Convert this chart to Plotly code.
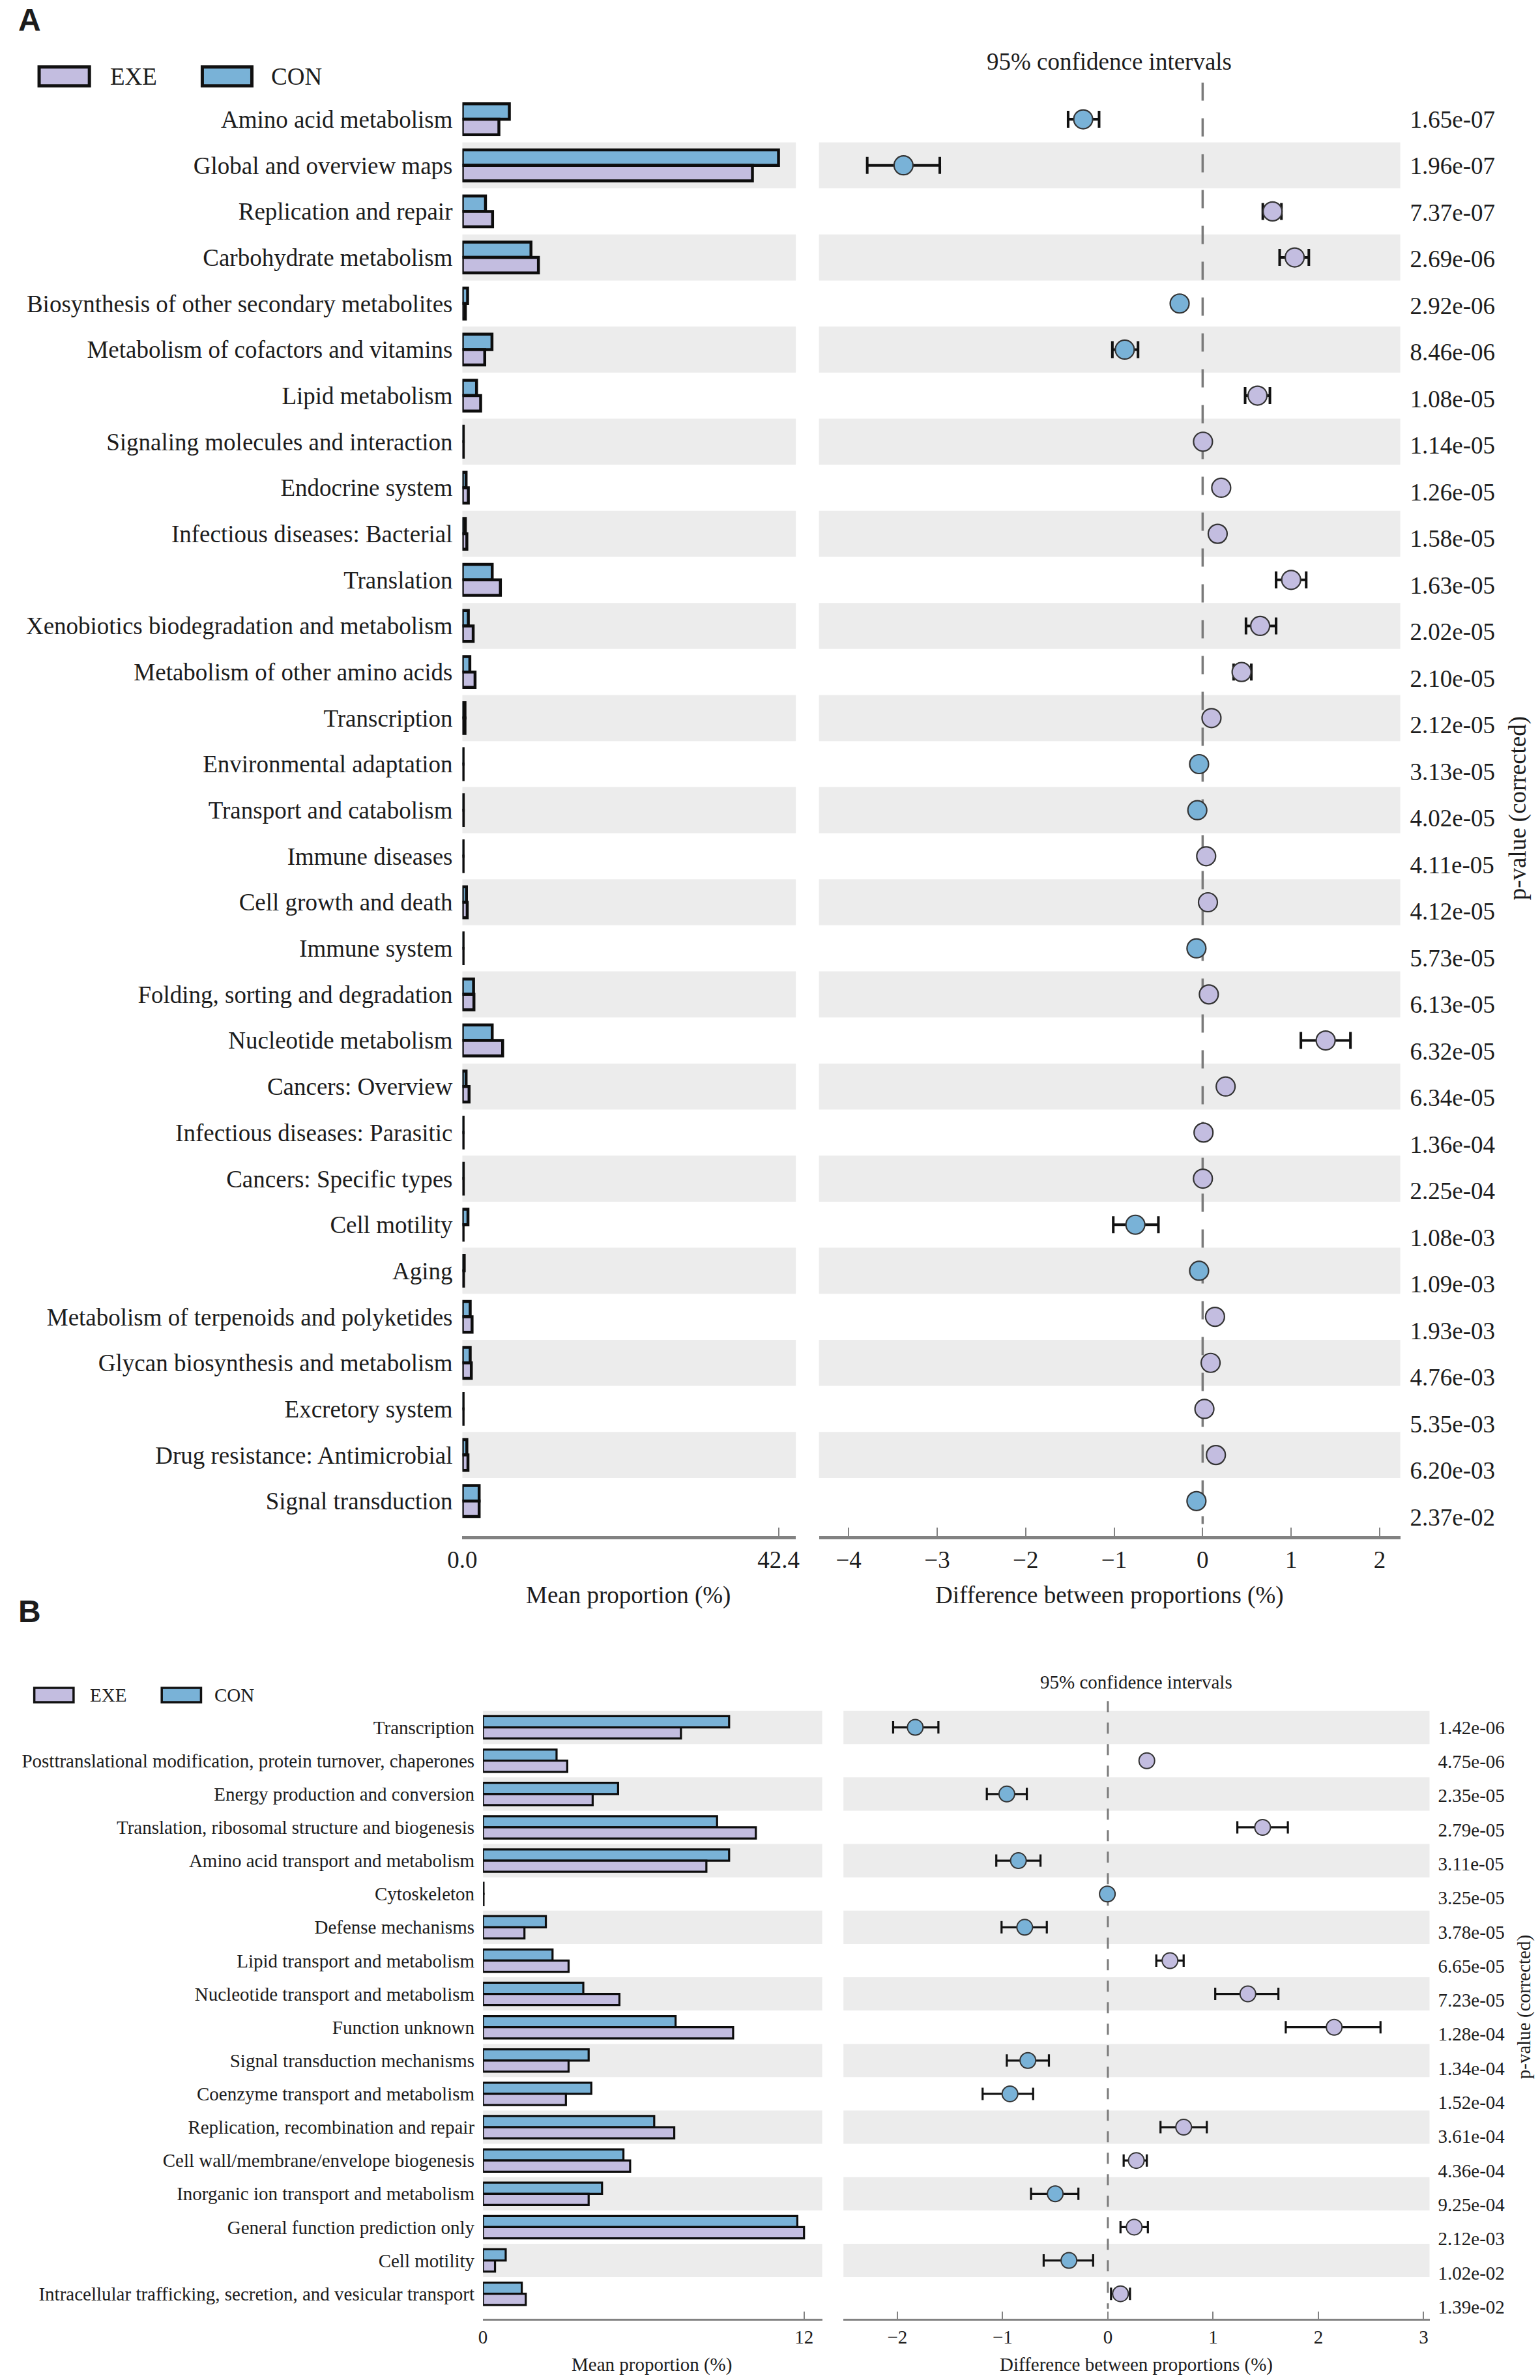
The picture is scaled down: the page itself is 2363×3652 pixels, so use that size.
import plotly.graph_objects as go

W, H = 2363, 3652

# ---------------- Panel A data ----------------
cats_a = ["Amino acid metabolism", "Global and overview maps", "Replication and repair",
          "Carbohydrate metabolism", "Biosynthesis of other secondary metabolites",
          "Metabolism of cofactors and vitamins", "Lipid metabolism",
          "Signaling molecules and interaction", "Endocrine system",
          "Infectious diseases: Bacterial", "Translation",
          "Xenobiotics biodegradation and metabolism", "Metabolism of other amino acids",
          "Transcription", "Environmental adaptation", "Transport and catabolism",
          "Immune diseases", "Cell growth and death", "Immune system",
          "Folding, sorting and degradation", "Nucleotide metabolism", "Cancers: Overview",
          "Infectious diseases: Parasitic", "Cancers: Specific types", "Cell motility", "Aging",
          "Metabolism of terpenoids and polyketides", "Glycan biosynthesis and metabolism",
          "Excretory system", "Drug resistance: Antimicrobial", "Signal transduction"]
con_a = [6.3, 42.4, 3.1, 9.2, 0.7, 3.97, 1.9, 0.12, 0.5, 0.4, 4.0, 0.8, 1.0, 0.35, 0.1, 0.12,
         0.1, 0.55, 0.1, 1.5, 4.0, 0.5, 0.1, 0.12, 0.75, 0.25, 1.05, 1.05, 0.1, 0.6, 2.25]
exe_a = [4.9, 38.9, 4.05, 10.2, 0.4, 3.0, 2.45, 0.12, 0.8, 0.6, 5.1, 1.45, 1.7, 0.35, 0.1, 0.12,
         0.1, 0.65, 0.1, 1.55, 5.4, 0.9, 0.1, 0.12, 0.1, 0.15, 1.3, 1.2, 0.1, 0.75, 2.25]
diff_a = [-1.35, -3.38, 0.79, 1.04, -0.26, -0.88, 0.62, 0.004, 0.21, 0.17, 1.0, 0.65, 0.44, 0.10,
          -0.04, -0.06, 0.04, 0.06, -0.07, 0.07, 1.39, 0.26, 0.01, 0.003, -0.76, -0.04, 0.14,
          0.09, 0.02, 0.15, -0.07]
lo_a = [-1.52, -3.79, 0.68, 0.87, -0.28, -1.02, 0.48, -0.01, 0.19, 0.15, 0.83, 0.49, 0.35, 0.09,
        -0.05, -0.07, 0.03, 0.05, -0.08, 0.06, 1.11, 0.23, 0.0, -0.01, -1.01, -0.05, 0.12, 0.08,
        0.01, 0.13, -0.08]
hi_a = [-1.17, -2.97, 0.89, 1.20, -0.24, -0.73, 0.76, 0.01, 0.23, 0.19, 1.17, 0.83, 0.55, 0.11,
        -0.03, -0.05, 0.05, 0.07, -0.06, 0.08, 1.67, 0.29, 0.02, 0.01, -0.50, -0.03, 0.16, 0.10,
        0.03, 0.17, -0.06]
p_a = ["1.65e-07", "1.96e-07", "7.37e-07", "2.69e-06", "2.92e-06", "8.46e-06", "1.08e-05",
       "1.14e-05", "1.26e-05", "1.58e-05", "1.63e-05", "2.02e-05", "2.10e-05", "2.12e-05",
       "3.13e-05", "4.02e-05", "4.11e-05", "4.12e-05", "5.73e-05", "6.13e-05", "6.32e-05",
       "6.34e-05", "1.36e-04", "2.25e-04", "1.08e-03", "1.09e-03", "1.93e-03", "4.76e-03",
       "5.35e-03", "6.20e-03", "2.37e-02"]
bar_ticks_a = [0, 42.4]
bar_ticktext_a = ["0.0", "42.4"]
ci_ticks_a = [-4, -3, -2, -1, 0, 1, 2]

# ---------------- Panel B data ----------------
cats_b = ["Transcription", "Posttranslational modification, protein turnover, chaperones",
          "Energy production and conversion", "Translation, ribosomal structure and biogenesis",
          "Amino acid transport and metabolism", "Cytoskeleton", "Defense mechanisms",
          "Lipid transport and metabolism", "Nucleotide transport and metabolism",
          "Function unknown", "Signal transduction mechanisms",
          "Coenzyme transport and metabolism", "Replication, recombination and repair",
          "Cell wall/membrane/envelope biogenesis", "Inorganic ion transport and metabolism",
          "General function prediction only", "Cell motility",
          "Intracellular trafficking, secretion, and vesicular transport"]
con_b = [9.2, 2.75, 5.05, 8.75, 9.2, 0.02, 2.35, 2.6, 3.75, 7.2, 3.95, 4.05, 6.4, 5.25, 4.45,
         11.75, 0.85, 1.45]
exe_b = [7.4, 3.15, 4.1, 10.2, 8.35, 0.02, 1.55, 3.2, 5.1, 9.35, 3.2, 3.1, 7.15, 5.5, 3.95,
         12.0, 0.45, 1.6]
diff_b = [-1.83, 0.37, -0.96, 1.47, -0.85, -0.005, -0.79, 0.59, 1.33, 2.15, -0.76, -0.93, 0.72,
          0.27, -0.50, 0.25, -0.37, 0.12]
lo_b = [-2.04, 0.34, -1.15, 1.23, -1.06, -0.01, -1.01, 0.46, 1.02, 1.69, -0.96, -1.19, 0.50,
        0.15, -0.73, 0.12, -0.61, 0.03]
hi_b = [-1.61, 0.40, -0.77, 1.71, -0.64, 0.0, -0.58, 0.72, 1.62, 2.59, -0.56, -0.71, 0.94,
        0.37, -0.28, 0.38, -0.14, 0.21]
p_b = ["1.42e-06", "4.75e-06", "2.35e-05", "2.79e-05", "3.11e-05", "3.25e-05", "3.78e-05",
       "6.65e-05", "7.23e-05", "1.28e-04", "1.34e-04", "1.52e-04", "3.61e-04", "4.36e-04",
       "9.25e-04", "2.12e-03", "1.02e-02", "1.39e-02"]
bar_ticks_b = [0, 12]
bar_ticktext_b = ["0", "12"]
ci_ticks_b = [-2, -1, 0, 1, 2, 3]

# ---------------- styles ----------------
EXE_COL = "#c3bde0"
CON_COL = "#79b2d7"
BAND = "#ececec"
TXT = "#1c1c1c"
AXC = "#828282"
SERIF = "Liberation Serif, Times New Roman, serif"


def px(x):
    return x / W


def py(y):
    return 1 - y / H


fig = go.Figure()

# ---- Panel A traces ----
ia = list(range(len(cats_a)))
fig.add_trace(go.Bar(y=ia, x=con_a, orientation="h", name="CON", marker=dict(color=CON_COL, line=dict(color="#0d0d0d", width=4.5)), xaxis="x", yaxis="y"))
fig.add_trace(go.Bar(y=ia, x=exe_a, orientation="h", name="EXE", marker=dict(color=EXE_COL, line=dict(color="#0d0d0d", width=4.5)), xaxis="x", yaxis="y"))
fig.add_trace(go.Scatter(
    x=diff_a, y=ia, mode="markers", xaxis="x2", yaxis="y2",
    marker=dict(size=29, color=[EXE_COL if d >= 0 else CON_COL for d in diff_a], line=dict(color="#333333", width=2.2)),
    error_x=dict(type="data", symmetric=False,
                 array=[h - d for h, d in zip(hi_a, diff_a)],
                 arrayminus=[d - l for d, l in zip(diff_a, lo_a)],
                 color="#111111", thickness=4, width=13)))
fig.add_trace(go.Scatter(x=[0], y=[0], mode="markers", marker=dict(opacity=0), xaxis="x2", yaxis="y3", hoverinfo="skip"))

# ---- Panel B traces ----
ib = list(range(len(cats_b)))
fig.add_trace(go.Bar(y=ib, x=con_b, orientation="h", name="CON", marker=dict(color=CON_COL, line=dict(color="#0d0d0d", width=3.2)), xaxis="x3", yaxis="y4"))
fig.add_trace(go.Bar(y=ib, x=exe_b, orientation="h", name="EXE", marker=dict(color=EXE_COL, line=dict(color="#0d0d0d", width=3.2)), xaxis="x3", yaxis="y4"))
fig.add_trace(go.Scatter(
    x=diff_b, y=ib, mode="markers", xaxis="x4", yaxis="y5",
    marker=dict(size=24, color=[EXE_COL if d >= 0 else CON_COL for d in diff_b], line=dict(color="#333333", width=2)),
    error_x=dict(type="data", symmetric=False,
                 array=[h - d for h, d in zip(hi_b, diff_b)],
                 arrayminus=[d - l for d, l in zip(diff_b, lo_b)],
                 color="#111111", thickness=3.2, width=9.5)))
fig.add_trace(go.Scatter(x=[0], y=[0], mode="markers", marker=dict(opacity=0), xaxis="x4", yaxis="y6", hoverinfo="skip"))

# ---------------- axes ----------------
FA = 37
FB = 29
yA = [py(2357), py(126.5)]
yB = [py(3558), py(2610)]
rngA = [30.76, -0.80]
rngB = [17.75, -0.794]


def xax(domain, rng, tickvals, ticktext, fsize, lw, tlen, anchor):
    return dict(domain=domain, range=rng, anchor=anchor, showgrid=False, zeroline=False,
                showline=True, linecolor=AXC, linewidth=lw, ticks="inside", ticklen=tlen,
                tickwidth=2, tickcolor=AXC, tickvals=tickvals, ticktext=ticktext,
                tickfont=dict(family=SERIF, size=fsize, color=TXT), fixedrange=True)


def yax(domain, rng, tickvals, ticktext, fsize, anchor, standoff, side="left", show=True, overlay=None):
    d = dict(range=rng, anchor=anchor, showgrid=False, zeroline=False, showline=False,
             ticks="", tickvals=tickvals, ticktext=ticktext, showticklabels=show, side=side,
             tickfont=dict(family=SERIF, size=fsize, color=TXT), ticklabelstandoff=standoff,
             fixedrange=True)
    if overlay:
        d["overlaying"] = overlay
    else:
        d["domain"] = domain
    return d


ci_tt_a = [str(v).replace("-", "\u2212") for v in ci_ticks_a]
ci_tt_b = [str(v).replace("-", "\u2212") for v in ci_ticks_b]

layout_axes = dict(
    xaxis=xax([px(695), px(1213)], [0, 44.72], bar_ticks_a, bar_ticktext_a, FA, 4.5, 13, "y"),
    yaxis=yax(yA, rngA, ia, cats_a, FA, "x", 14),
    xaxis2=xax([px(1249), px(2152)], [-4.335, 2.233], ci_ticks_a, ci_tt_a, FA, 4.5, 13, "y2"),
    yaxis2=yax(yA, rngA, ia, None, FA, "x2", 0, show=False),
    yaxis3=yax(None, [30.41, -0.79], ia, p_a, FA, "x2", 14, side="right", overlay="y2"),
    xaxis3=xax([px(727), px(1254)], [0, 12.68], bar_ticks_b, bar_ticktext_b, FB, 3, 11, "y4"),
    yaxis4=yax(yB, rngB, ib, cats_b, FB, "x3", 12),
    xaxis4=xax([px(1287), px(2197.5)], [-2.512, 3.056], ci_ticks_b, ci_tt_b, FB, 3, 11, "y5"),
    yaxis5=yax(yB, rngB, ib, None, FB, "x4", 0, show=False),
    yaxis6=yax(None, [17.35, -0.776], ib, p_b, FB, "x4", 12, side="right", overlay="y5"),
)

# ---------------- shapes ----------------
shapes = []
for i in ia:
    if i % 2 == 1:
        for xr, yr in (("x domain", "y"), ("x2 domain", "y2")):
            shapes.append(dict(type="rect", xref=xr, yref=yr, x0=0, x1=1, y0=i - 0.5, y1=i + 0.5,
                               fillcolor=BAND, line=dict(width=0), layer="below"))
for i in ib:
    if i % 2 == 0:
        for xr, yr in (("x3 domain", "y4"), ("x4 domain", "y5")):
            shapes.append(dict(type="rect", xref=xr, yref=yr, x0=0, x1=1, y0=i - 0.5, y1=i + 0.5,
                               fillcolor=BAND, line=dict(width=0), layer="below"))
shapes.append(dict(type="line", xref="x2", yref="y2", x0=0, x1=0, y0=-0.8, y1=30.5,
                   line=dict(color="#7a7a7a", width=3.5, dash="28px,27px"), layer="below"))
shapes.append(dict(type="line", xref="x4", yref="y5", x0=0, x1=0, y0=-0.79, y1=17.45,
                   line=dict(color="#7a7a7a", width=3, dash="17px,16px"), layer="below"))

# legend swatches (drawn manually)
for (x0, x1, y0, y1, col, lw) in [(37.5, 115.6, 102.7, 131.7, EXE_COL, 5), (291, 368, 102.7, 131.7, CON_COL, 5),
                                  (30, 91, 2590, 2612, EXE_COL, 3.5), (228, 289, 2590, 2612, CON_COL, 3.5)]:
    shapes.append(dict(type="rect", xref="paper", yref="paper", x0=px(x0), x1=px(x1), y0=py(y1), y1=py(y0),
                       fillcolor=col, line=dict(color="#111111", width=lw)))

# ---------------- annotations ----------------
ann = []


def txt(text, x, y, size, xanchor="center", yanchor="middle", angle=0, family=SERIF, bold=False):
    ann.append(dict(text=("<b>%s</b>" % text) if bold else text, x=px(x), y=py(y), xref="paper", yref="paper",
                    showarrow=False, xanchor=xanchor, yanchor=yanchor, textangle=angle,
                    font=dict(family=family, size=size, color=TXT)))


SANS = "Liberation Sans, Arial, sans-serif"
txt("A", 3, 2, 48, xanchor="left", yanchor="top", family=SANS, bold=True)
txt("B", 3, 2444, 48, xanchor="left", yanchor="top", family=SANS, bold=True)
txt("EXE", 146, 117, FA, xanchor="left")
txt("CON", 396, 117, FA, xanchor="left")
txt("EXE", 114, 2601, FB, xanchor="left")
txt("CON", 308, 2601, FB, xanchor="left")
txt("95% confidence intervals", 1700, 94, FA)
txt("95% confidence intervals", 1742, 2581, FB)
txt("Mean proportion (%)", 953, 2448, FA)
txt("Difference between proportions (%)", 1700, 2448, FA)
txt("Mean proportion (%)", 989, 3628, FB)
txt("Difference between proportions (%)", 1742, 3628, FB)
txt("p-value (corrected)", 2335, 1240, FA, angle=-90)
txt("p-value (corrected)", 2344, 3080, FB, angle=-90)

fig.update_layout(
    width=W, height=H, margin=dict(l=0, r=0, t=0, b=0),
    paper_bgcolor="white", plot_bgcolor="rgba(0,0,0,0)",
    showlegend=False, barmode="group", bargap=0.33, bargroupgap=0,
    shapes=shapes, annotations=ann, font=dict(family=SERIF, color=TXT),
    **layout_axes)

fig.write_html("out.html", config={"displayModeBar": False},
               post_script="document.body.style.margin='0';document.body.style.overflow='hidden';")
